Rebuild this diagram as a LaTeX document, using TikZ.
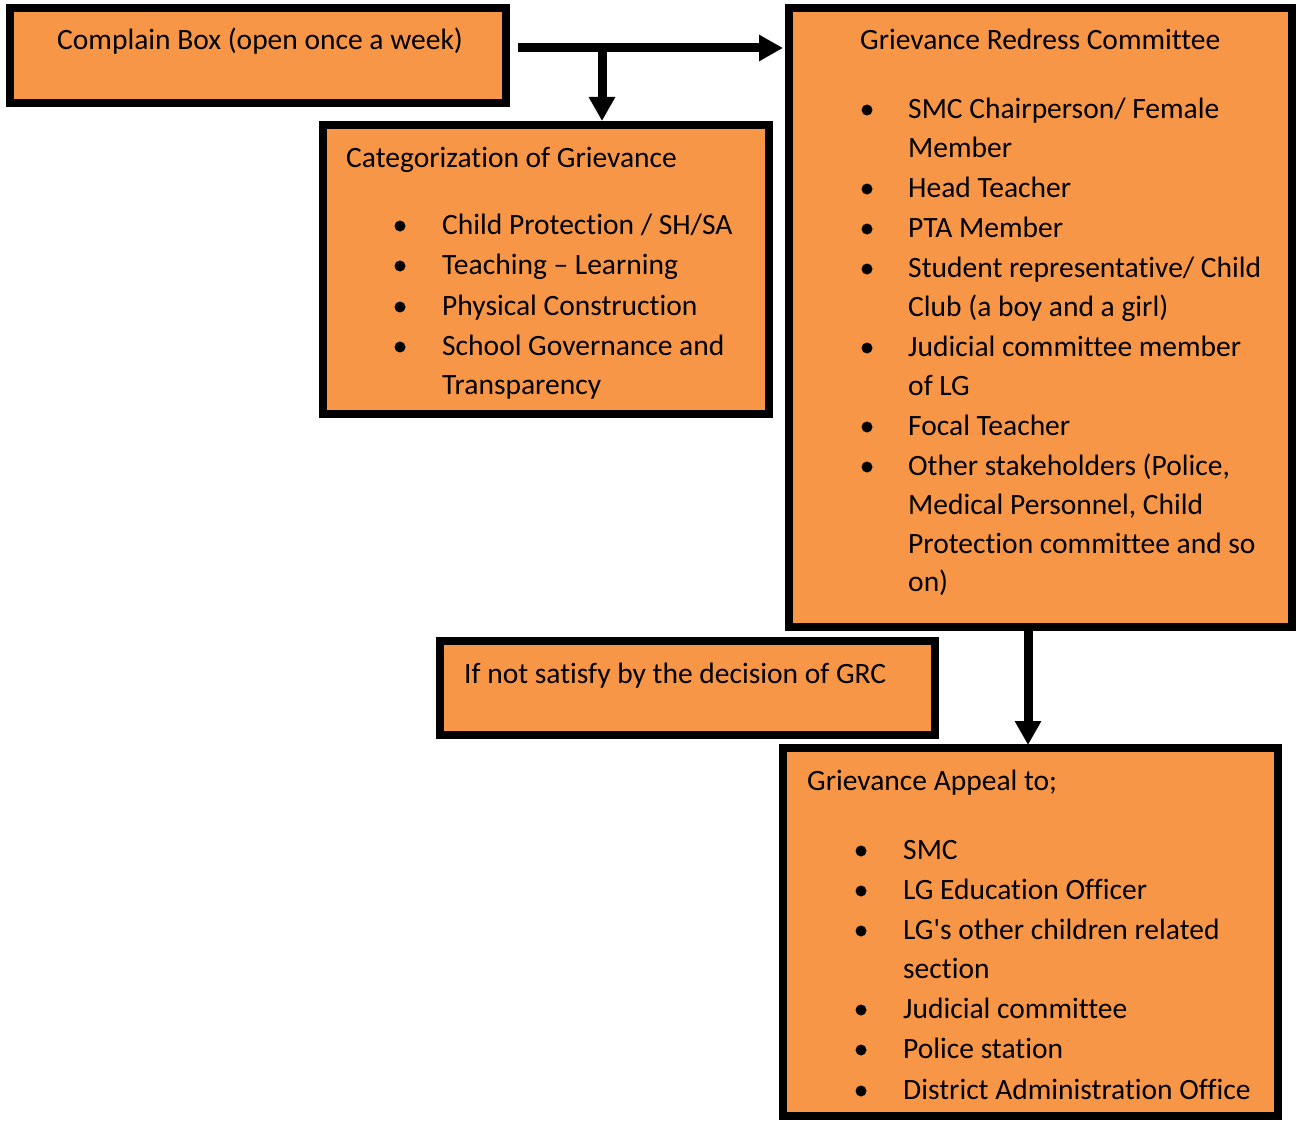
\documentclass[tikz,border=0pt]{standalone}
\usepackage{fontspec}
\setmainfont[Ligatures={NoCommon}]{Carlito}
\usetikzlibrary{arrows.meta}
\definecolor{boxorange}{HTML}{F79646}
\tikzset{
  box/.style={draw=black, fill=boxorange, line width=8pt, rectangle, anchor=north west, inner sep=0pt, outer sep=0pt},
  txt/.style={anchor=base west, inner sep=0pt, font=\fontsize{29.5}{39.5}\selectfont},
  bul/.style={circle, fill=black, inner sep=0pt, minimum size=11pt},
  conn/.style={line width=9pt, -{Triangle[length=24pt,width=25pt]}}
}
\begin{document}
\begin{tikzpicture}[x=1pt,y=-1pt]
\useasboundingbox (0,0) rectangle (1297,1121);
% boxes
\node[box, minimum width=496pt, minimum height=95pt] (cb) at (10,8) {};
\node[box, minimum width=446pt, minimum height=289pt] (cat) at (323,125) {};
\node[box, minimum width=503pt, minimum height=619pt] (grc) at (789,8) {};
\node[box, minimum width=495pt, minimum height=94pt] (ifn) at (440,641) {};
\node[box, minimum width=495pt, minimum height=368pt] (app) at (783,748) {};
% Complain box
\node[txt] (t1) at (57,50) {Complain Box (open once a week)};
% Categorization
\node[txt] (c0) at (346,167) {Categorization of Grievance};
\foreach \yy/\tx [count=\i] in {234/{Child Protection / SH/SA},274/{Teaching – Learning},315/{Physical Construction},355/{School Governance and}}{
  \node[bul] (cb\i) at (400,\yy-8) {};
  \node[txt] (ct\i) at (442,\yy) {\tx};
}
\node[txt] (ct5) at (442,394) {Transparency};
% GRC
\node[txt] (g0) at (860,50) {Grievance Redress Committee};
\foreach \yy [count=\i] in {118,197,237,277,356,435,475}{
  \node[bul] (gb\i) at (867,\yy-8) {};
}
\foreach \yy/\tx [count=\i] in {118/{SMC Chairperson/ Female},157/{Member},197/{Head Teacher},237/{PTA Member},277/{Student representative/ Child},316/{Club (a boy and a girl)},356/{Judicial committee member},395/{of LG},435/{Focal Teacher},475/{Other stakeholders (Police,},514/{Medical Personnel, Child},553/{Protection committee and so},591/{on)}}{
  \node[txt] (gt\i) at (908,\yy) {\tx};
}
% If not
\node[txt] (f0) at (464,683) {If not satisfy by the decision of GRC};
% Appeal
\node[txt] (a0) at (807,790) {Grievance Appeal to;};
\foreach \yy [count=\i] in {859,899,939,1018,1058,1099}{
  \node[bul] (ab\i) at (861,\yy-8) {};
}
\foreach \yy/\tx [count=\i] in {859/{SMC},899/{LG Education Officer},939/{LG\textquotesingle s other children related},978/{section},1018/{Judicial committee},1058/{Police station},1099/{District Administration Office}}{
  \node[txt] (at\i) at (903,\yy) {\tx};
}
% connectors
\coordinate (start) at (518,48);
\coordinate (junc) at (602,48);
\coordinate (ax) at (1028,0);
\draw[conn, shorten >=6pt] (start) -- (grc.west |- start);
\draw[conn, shorten >=4pt] (junc) -- (junc |- cat.north);
\draw[conn, shorten >=3pt] (grc.south -| ax) -- (app.north -| ax);
\end{tikzpicture}
\end{document}
